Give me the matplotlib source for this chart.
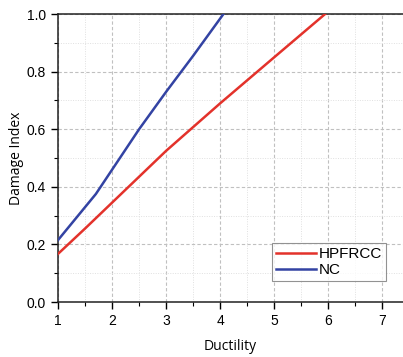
import matplotlib
matplotlib.use("Agg")
import matplotlib.pyplot as plt
from matplotlib.ticker import MultipleLocator

hp_x = [1.0, 1.5, 2.0, 2.5, 3.0, 4.0, 5.0, 5.94]
hp_y = [0.167, 0.255, 0.345, 0.435, 0.525, 0.69, 0.85, 1.0]
nc_x = [1.0, 1.7, 2.5, 3.0, 3.5, 4.06]
nc_y = [0.215, 0.375, 0.6, 0.73, 0.855, 1.0]
xticks = [1, 2, 3, 4, 5, 6, 7]
yticks = [0.0, 0.2, 0.4, 0.6, 0.8, 1.0]

fig = plt.figure(figsize=(4.03, 3.57), dpi=100)
ax = fig.add_axes([58/403, 55/357, 1 - 58/403, 288/357])

ax.plot(hp_x, hp_y, color="#e3322b", lw=1.8, label="HPFRCC", zorder=3)
ax.plot(nc_x, nc_y, color="#3343a3", lw=1.8, label="NC", zorder=3)

ax.set_xlim(1, 7.38)
ax.set_ylim(0, 1.0)
ax.set_xticks(xticks)
ax.set_yticks(yticks)
ax.set_xticklabels([str(v) for v in xticks], fontfamily="Liberation Sans", fontsize=10)
ax.set_yticklabels([f"{v:.1f}" for v in yticks], fontfamily="Liberation Sans", fontsize=10)
ax.xaxis.set_minor_locator(MultipleLocator(0.5))
ax.yaxis.set_minor_locator(MultipleLocator(0.1))
ax.tick_params(which="major", direction="out", length=5, width=1, color="black")
ax.tick_params(which="minor", direction="out", length=3, width=0.8, color="black")

ax.grid(which="major", color="#c0c0c0", linestyle=(0, (3, 2)), lw=0.8)
ax.grid(which="minor", color="#e0e0e0", linestyle=(0, (1, 1.5)), lw=0.7)
ax.set_axisbelow(True)

for s in ["left", "bottom", "top"]:
    ax.spines[s].set_linewidth(1.1)
    ax.spines[s].set_color("#222222")
ax.spines["right"].set_visible(False)

ax.set_xlabel("Ductility", fontfamily="Open Sans", fontsize=10, labelpad=8)
ax.set_ylabel("Damage Index", fontfamily="Open Sans", fontsize=10, labelpad=2)

leg = ax.legend(loc="lower right", prop={"family": "Liberation Sans", "size": 11},
                frameon=True, fancybox=False, edgecolor="#777777", handlelength=2.6,
                handletextpad=0.2, borderpad=0.25, labelspacing=0.15, borderaxespad=0)
leg.set_bbox_to_anchor(((386 - 58) / 345, (302 - 281) / 288), transform=ax.transAxes)
leg.get_frame().set_linewidth(0.8)

fig.savefig("out.png", dpi=100)
